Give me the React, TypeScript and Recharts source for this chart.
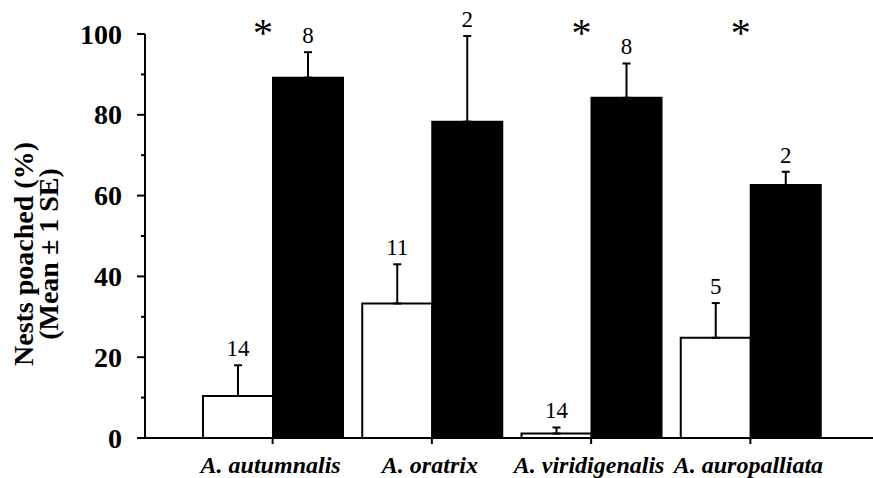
import { Bar, BarChart, ErrorBar, Label, LabelList, XAxis, YAxis } from "recharts";

const species = ["A. autumnalis", "A. oratrix", "A. viridigenalis", "A. auropalliata"];
const openMean = [10.4, 33.3, 1.1, 24.8];
const openSE = [7.6, 9.7, 1.5, 8.6];
const openN = [14, 11, 14, 5];
const filledMean = [89.2, 78.3, 84.2, 62.6];
const filledSE = [6.3, 21.2, 8.5, 3.3];
const filledN = [8, 2, 8, 2];
const significant = [true, false, true, true];
const yTicks = [0, 10, 20, 30, 40, 50, 60, 70, 80, 90, 100];

const SERIF = "'Liberation Serif', 'Times New Roman', serif";

const data = species.map((name, i) => ({
  name,
  open: openMean[i],
  openErr: [0, openSE[i]],
  openN: openN[i],
  filled: filledMean[i],
  filledErr: [0, filledSE[i]],
  filledN: filledN[i],
  sig: significant[i],
}));

function YTick({ x, y, payload }: any) {
  const major = payload.value % 20 === 0;
  return (
    <g>
      <line x1={x - (major ? 8 : 4)} x2={x} y1={y} y2={y} stroke="#000" strokeWidth={2} />
      {major && (
        <text
          x={x - 23}
          y={y}
          dy="0.34em"
          textAnchor="end"
          fontFamily={SERIF}
          fontWeight="bold"
          fontSize={28}
          fill="#000"
        >
          {payload.value}
        </text>
      )}
    </g>
  );
}

function XTick({ x, y, payload }: any) {
  return (
    <g>
      <line x1={x} x2={x} y1={y} y2={y + 6} stroke="#000" strokeWidth={2} />
      <text
        x={x - 2}
        y={y + 35}
        textAnchor="middle"
        fontFamily={SERIF}
        fontWeight="bold"
        fontStyle="italic"
        fontSize={24}
        fill="#000"
      >
        {payload.value}
      </text>
    </g>
  );
}

function YTitle({ viewBox }: any) {
  const cy = viewBox.y + viewBox.height / 2 + 18;
  const lines = [
    { text: "Nests poached (%)", x: 33 },
    { text: "(Mean ± 1 SE)", x: 58 },
  ];
  return (
    <g>
      {lines.map((l) => (
        <text
          key={l.text}
          x={l.x}
          y={cy}
          transform={`rotate(-90, ${l.x}, ${cy})`}
          textAnchor="middle"
          fontFamily={SERIF}
          fontWeight="bold"
          fontSize={28}
          fill="#000"
        >
          {l.text}
        </text>
      ))}
    </g>
  );
}

// sample size above the error bar; pixels per unit taken from the bar itself
function countLabel(seKey: "openErr" | "filledErr", nKey: "openN" | "filledN", meanKey: "open" | "filled") {
  return (props: any) => {
    const { x, y, width, height, index } = props;
    const row = data[index];
    const ppu = height / row[meanKey];
    const top = y - row[seKey][1] * ppu;
    return (
      <text
        x={x + width / 2}
        y={top - 9}
        textAnchor="middle"
        fontFamily={SERIF}
        fontSize={23}
        fill="#000"
      >
        {row[nKey]}
      </text>
    );
  };
}

function Asterisk(props: any) {
  const { x, y, height, index } = props;
  const row = data[index];
  if (!row.sig) return null;
  const ppu = height / row.filled;
  const base = y + height - 100 * ppu;
  return (
    <text x={x - 10} y={base + 12} textAnchor="middle" fontFamily={SERIF} fontSize={40} fill="#000">
      *
    </text>
  );
}

export default function App() {
  return (
    <div style={{ position: "absolute", left: 0, top: 0 }}>
      <BarChart
        width={873}
        height={478}
        data={data}
        margin={{ top: 34, right: 0, bottom: 0, left: 0 }}
        barCategoryGap={10}
        barGap={0}
      >
        <YAxis
          width={145}
          domain={[0, 100]}
          ticks={yTicks}
          interval={0}
          tickSize={0}
          tickMargin={0}
          tick={<YTick />}
          axisLine={{ stroke: "#000", strokeWidth: 2 }}
          tickLine={false}
        >
          <Label content={<YTitle />} />
        </YAxis>
        <XAxis
          dataKey="name"
          height={40}
          padding={{ left: 48, right: 43 }}
          tickSize={0}
          tickMargin={0}
          tick={<XTick />}
          interval={0}
          axisLine={{ stroke: "#000", strokeWidth: 2 }}
          tickLine={false}
        />
        <Bar dataKey="open" fill="#fff" stroke="#000" strokeWidth={2} isAnimationActive={false}>
          <ErrorBar dataKey="openErr" width={4} stroke="#000" strokeWidth={2} direction="y" />
          <LabelList dataKey="open" content={countLabel("openErr", "openN", "open")} />
        </Bar>
        <Bar dataKey="filled" fill="#000" stroke="#000" strokeWidth={2} isAnimationActive={false}>
          <ErrorBar dataKey="filledErr" width={4} stroke="#000" strokeWidth={2} direction="y" />
          <LabelList dataKey="filled" content={countLabel("filledErr", "filledN", "filled")} />
          <LabelList dataKey="filled" content={<Asterisk />} />
        </Bar>
      </BarChart>
    </div>
  );
}
